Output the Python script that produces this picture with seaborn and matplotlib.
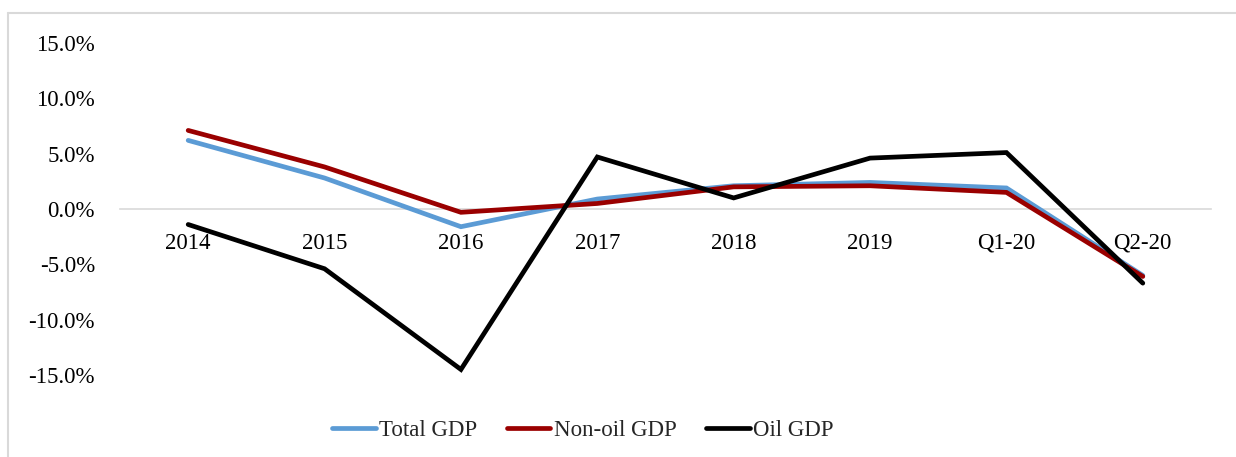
import matplotlib
matplotlib.use("Agg")
import matplotlib.pyplot as plt
from matplotlib.lines import Line2D
from matplotlib.ticker import FuncFormatter, MultipleLocator
import seaborn as sns
import pandas as pd

periods = ["2014", "2015", "2016", "2017", "2018", "2019", "Q1-20", "Q2-20"]
total_gdp = [6.2, 2.8, -1.6, 0.9, 2.1, 2.4, 1.9, -6.0]
non_oil_gdp = [7.1, 3.8, -0.3, 0.5, 2.0, 2.1, 1.5, -6.1]
oil_gdp = [-1.4, -5.4, -14.5, 4.7, 1.0, 4.6, 5.1, -6.7]

series_names = ["Total GDP", "Non-oil GDP", "Oil GDP"]
series_colors = ["#5B9BD5", "#9A0000", "#000000"]

frames = []
for name, vals in zip(series_names, [total_gdp, non_oil_gdp, oil_gdp]):
    frames.append(pd.DataFrame({"period": periods, "growth": vals, "series": name}))
df = pd.concat(frames, ignore_index=True)

sns.set_style("white")
plt.rcParams["font.family"] = ["Liberation Serif", "DejaVu Serif"]

W, H = 1236, 457
fig = plt.figure(figsize=(W / 100, H / 100), dpi=100)
ax = fig.add_axes([120 / W, 1 - 375 / H, 1091 / W, (375 - 43) / H])

sns.lineplot(data=df, x="period", y="growth", hue="series",
             hue_order=series_names, palette=series_colors,
             linewidth=3.4, sort=False, ax=ax, legend=False)
for ln in ax.get_lines():
    ln.set_clip_on(False)
    ln.set_solid_joinstyle("miter")
    ln.set_zorder(3)

ax.set_xlim(-0.5, len(periods) - 0.5)
ax.set_ylim(-15, 15)
ax.yaxis.set_major_locator(MultipleLocator(5))
ax.yaxis.set_major_formatter(FuncFormatter(lambda v, _: f"{v:.1f}%"))
ax.set_xlabel("")
ax.set_ylabel("")

for side in ["top", "right", "left"]:
    ax.spines[side].set_visible(False)
ax.spines["bottom"].set_position(("data", 0))
ax.spines["bottom"].set_color("#D9D9D9")
ax.spines["bottom"].set_linewidth(1.2)
ax.spines["bottom"].set_zorder(1)

ax.tick_params(axis="x", length=0, pad=17, labelsize=16.5, colors="#000000")
ax.tick_params(axis="y", length=0, pad=18, labelsize=16.5, colors="#000000")
ax.grid(False)

handles = [Line2D([0], [0], color=c, lw=3.4, solid_capstyle="round") for c in series_colors]
fig.legend(handles, series_names, loc="center", bbox_to_anchor=(583 / W, 1 - 430 / H),
           ncol=3, frameon=False, fontsize=16.5, handlelength=1.9,
           handletextpad=0.15, columnspacing=1.3)

# light frame on the top and left edges
border = "#D9D9D9"
fig.add_artist(Line2D([8 / W, 1.0], [1 - 13 / H, 1 - 13 / H], color=border, lw=1.5,
                      transform=fig.transFigure))
fig.add_artist(Line2D([8 / W, 8 / W], [1 - 13 / H, 0.0], color=border, lw=1.5,
                      transform=fig.transFigure))

fig.savefig("out.png", dpi=100, facecolor="white")
